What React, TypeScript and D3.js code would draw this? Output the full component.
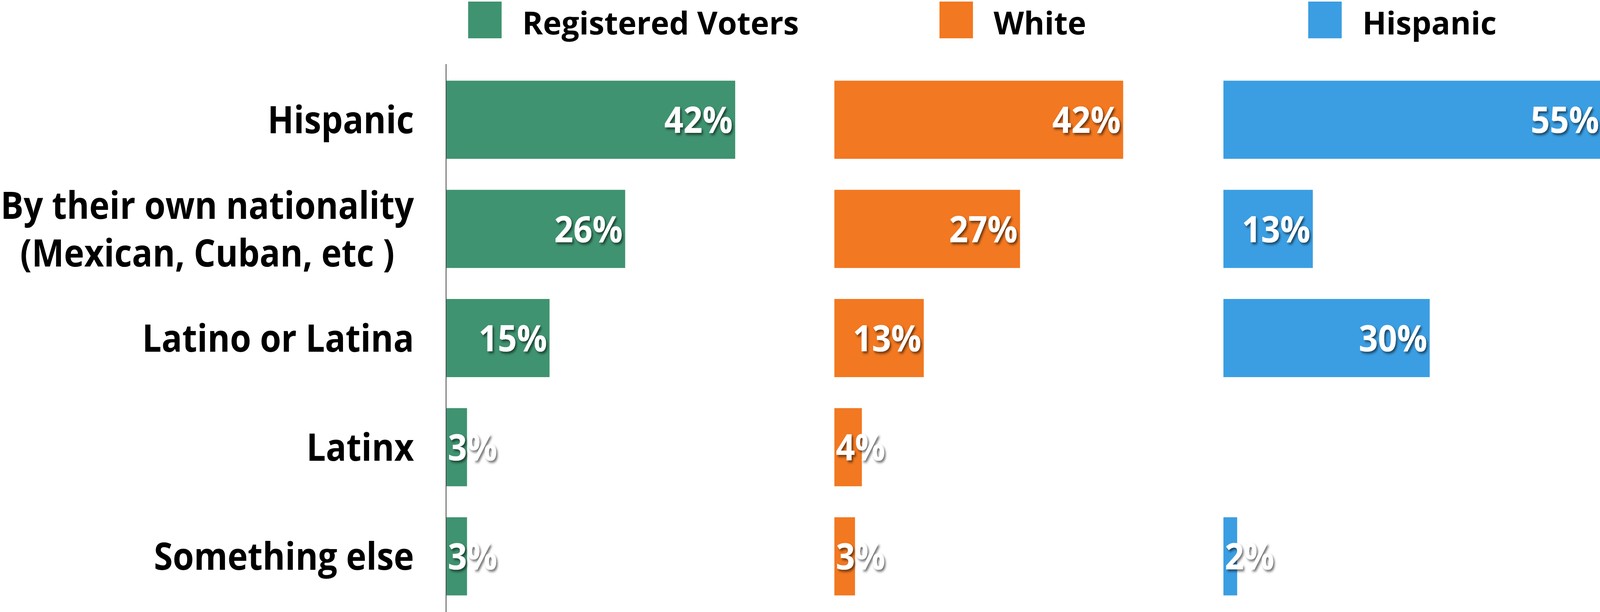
import { useRef, useEffect } from 'react';
import * as d3 from 'd3';

const categories = [
  'Hispanic',
  'By their own nationality|(Mexican, Cuban, etc )',
  'Latino or Latina',
  'Latinx',
  'Something else',
];

const seriesNames = ['Registered Voters', 'White', 'Hispanic'];
const seriesColors = ['#3F9370', '#F27821', '#3B9EE2'];

const registeredVoters = [42, 26, 15, 3, 3];
const white = [42, 27, 13, 4, 3];
const hispanic = [55, 13, 30, null, 2];

const seriesValues = [registeredVoters, white, hispanic];

const W = 4491;
const H = 1566;

export default function App() {
  const svgRef = useRef<SVGSVGElement>(null);

  useEffect(() => {
    document.body.style.margin = '0';
    if (!svgRef.current) return;

    const svg = d3.select(svgRef.current);
    svg.selectAll('*').remove();

    const font = '"Open Sans", sans-serif';

    // drop shadow for the value labels
    const defs = svg.append('defs');
    defs.append('filter')
      .attr('id', 'shadow')
      .attr('x', '-20%').attr('y', '-20%')
      .attr('width', '150%').attr('height', '150%')
      .append('feDropShadow')
      .attr('dx', 4).attr('dy', 5)
      .attr('stdDeviation', 3)
      .attr('flood-color', '#000')
      .attr('flood-opacity', 0.55);

    const y = d3.scaleBand<string>()
      .domain(categories)
      .range([164, H])
      .paddingInner(0.284)
      .paddingOuter(0.152);

    const panelStarts = [1253, 2342, 3434];
    const pxPerPct = 19.3;

    // Legend (slightly smaller font, stretched back to full width so the
    // text box stays inside the top edge)
    const legendSwatch = [1314, 2637, 3672];
    const legend = svg.append('g');
    seriesNames.forEach((name, i) => {
      legend.append('rect')
        .attr('x', legendSwatch[i])
        .attr('y', 4)
        .attr('width', 94)
        .attr('height', 94)
        .attr('fill', seriesColors[i]);
      const t = legend.append('text')
        .attr('x', legendSwatch[i] + 152)
        .attr('y', 88)
        .attr('font-family', font)
        .attr('font-weight', 700)
        .attr('font-size', 88)
        .attr('fill', '#000')
        .text(name);
      const fullW = (t.node() as SVGTextElement).getComputedTextLength();
      t.attr('font-size', 81)
        .attr('textLength', fullW)
        .attr('lengthAdjust', 'spacingAndGlyphs');
    });

    // Category labels
    const labelX = 1162;
    const labels = svg.append('g')
      .attr('font-family', font)
      .attr('font-weight', 700)
      .attr('font-size', 96)
      .attr('fill', '#000');

    categories.forEach((c) => {
      const cy = (y(c) ?? 0) + y.bandwidth() / 2;
      const lines = c.split('|');
      if (lines.length === 1) {
        labels.append('text')
          .attr('x', labelX)
          .attr('y', cy)
          .attr('dy', '0.36em')
          .attr('text-anchor', 'end')
          .text(lines[0]);
      } else {
        const first = labels.append('text')
          .attr('x', labelX)
          .attr('y', cy - 60)
          .attr('dy', '0.36em')
          .attr('text-anchor', 'end')
          .text(lines[0]);
        const w = (first.node() as SVGTextElement).getComputedTextLength();
        labels.append('text')
          .attr('x', labelX - w / 2)
          .attr('y', cy + 62)
          .attr('dy', '0.36em')
          .attr('text-anchor', 'middle')
          .text(lines[1]);
      }
    });

    // Bars
    seriesValues.forEach((vals, si) => {
      const x = d3.scaleLinear()
        .domain([0, 100])
        .range([panelStarts[si], panelStarts[si] + pxPerPct * 100]);
      const g = svg.append('g');

      vals.forEach((v, ci) => {
        if (v == null) return;
        const cat = categories[ci];
        const y0 = y(cat) ?? 0;
        const barW = x(v) - x(0);

        g.append('rect')
          .attr('x', x(0))
          .attr('y', y0)
          .attr('width', barW)
          .attr('height', y.bandwidth())
          .attr('fill', seriesColors[si]);

        const label = g.append('text')
          .attr('y', y0 + y.bandwidth() / 2)
          .attr('dy', '0.36em')
          .attr('font-family', font)
          .attr('font-weight', 700)
          .attr('font-size', 94)
          .attr('fill', '#fff')
          .attr('filter', 'url(#shadow)')
          .text(`${v}%`);
        const tw = (label.node() as SVGTextElement).getComputedTextLength();
        if (tw + 10 < barW) {
          label.attr('x', x(v) - 7).attr('text-anchor', 'end');
        } else {
          label.attr('x', x(0) + 4).attr('text-anchor', 'start');
        }
      });
    });

    // Vertical axis line
    svg.append('line')
      .attr('x1', 1252).attr('x2', 1252)
      .attr('y1', 164).attr('y2', H)
      .attr('stroke', '#333')
      .attr('stroke-width', 2);
  }, []);

  return (
    <svg
      ref={svgRef}
      viewBox={`0 0 ${W} ${H}`}
      preserveAspectRatio="none"
      style={{
        position: 'fixed',
        left: 0,
        top: 0,
        width: '100vw',
        height: '100vh',
        display: 'block',
        background: '#fff',
      }}
    />
  );
}
